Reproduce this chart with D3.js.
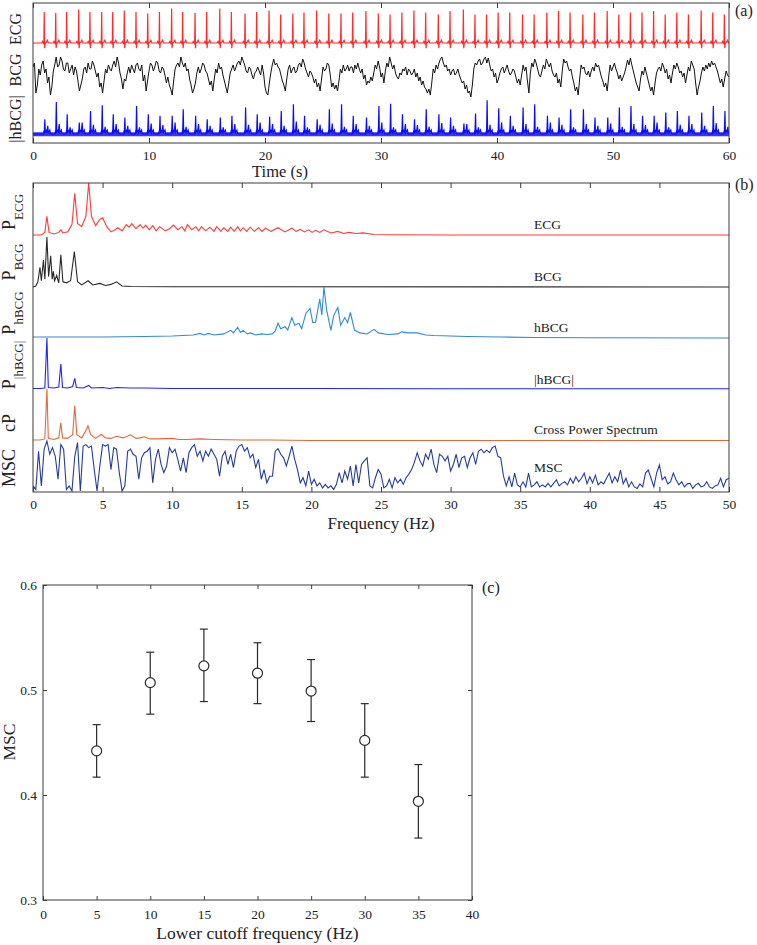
<!DOCTYPE html>
<html>
<head>
<meta charset="utf-8">
<script src="https://cdn.jsdelivr.net/npm/d3@7"></script>
<style>
  body { margin: 0; background: #fff; }
  text { font-family: "Liberation Serif", "Times New Roman", serif; fill: #222; }
</style>
</head>
<body>
<div id="fig"></div>
<script>
// ---------- (a) time signals ----------
const timeTicks = [0, 10, 20, 30, 40, 50, 60];
// R-peak times (s)
const beatTimes = [0.97, 1.96, 2.9, 3.94, 4.91, 5.92, 6.87, 7.87, 8.88, 9.89, 10.9, 11.95, 12.9, 13.97, 14.97, 16.1, 17.1, 18.28, 19.28,
    20.35, 21.35, 22.4, 23.36, 24.45, 25.5, 26.55, 27.56, 28.7, 29.77, 30.78, 31.8, 32.84, 33.85, 34.94, 35.95, 37.1, 38.1, 39.1, 40.1,
    41.1, 42.2, 43.2, 44.3, 45.3, 46.3, 47.4, 48.4, 49.5, 50.5, 51.5, 52.5, 53.5, 54.5, 55.5, 56.5, 57.6, 58.6, 59.6];
const ecgR = [1.0, 0.97, 1.0, 1.08, 1.0, 1.0, 1.0, 1.05, 1.0, 0.95, 1.0, 1.11, 1.0, 0.97, 1.0, 1.11, 1.0, 0.95, 1.0,
    1.05, 0.92, 0.95, 0.98, 1.05, 0.95, 0.95, 0.98, 1.03, 0.95, 0.92, 0.98, 1.05, 0.98, 0.92, 1.03, 1.08, 0.92, 0.92, 0.98,
    0.98, 0.92, 0.92, 0.98, 1.03, 0.98, 0.92, 0.98, 1.03, 0.92, 0.98, 0.98, 1.03, 0.92, 0.98, 0.92, 1.05, 0.98, 0.92];
// one heartbeat: [offset s, level]; level 1 = R peak
const ecgBeatShape = [[-0.22, 0], [-0.15, 0.05], [-0.09, 0], [-0.035, -0.04], [0, 1], [0.035, -0.17], [0.08, 0], [0.18, 0.02], [0.27, 0.09], [0.36, 0]];
const hbcgMain = [0.45, 0.97, 0.6, 0.35, 0.7, 0.87, 0.6, 0.5, 0.85, 0.6, 0.55, 0.55, 0.75, 0.55, 0.45, 0.5, 0.55, 0.8, 0.6,
    0.52, 0.7, 0.9, 0.55, 0.45, 0.75, 0.9, 0.55, 0.5, 0.85, 0.92, 0.6, 0.45, 0.75, 0.6, 0.5, 0.32, 0.62, 1.02, 0.78,
    0.55, 0.8, 0.9, 0.55, 0.5, 0.75, 0.75, 0.5, 0.5, 0.8, 0.85, 0.55, 0.55, 0.65, 0.7, 0.55, 0.65, 0.85, 0.7];
const hbcgSub = [0.25, 0.3, 0.2, 0.35, 0.28, 0.22, 0.3, 0.25, 0.2, 0.32, 0.27, 0.35, 0.22, 0.3, 0.25, 0.2, 0.3, 0.28, 0.35,
    0.3, 0.25, 0.38, 0.2, 0.28, 0.32, 0.22, 0.3, 0.25, 0.35, 0.2, 0.3, 0.27, 0.22, 0.33, 0.25, 0.3, 0.2, 0.28, 0.35,
    0.25, 0.3, 0.22, 0.35, 0.28, 0.2, 0.3, 0.25, 0.32, 0.22, 0.3, 0.27, 0.35, 0.2, 0.28, 0.3, 0.25, 0.33, 0.22];
// one hBCG beat: 'm' = main spike, 's' = second spike
const hbcgBeatShape = [[-0.06, 0], [-0.02, 0.1], [0, 0.02], [0.05, "m"], [0.09, 0.06], [0.16, 0.1], [0.22, 0.04], [0.3, "s"], [0.35, 0.04], [0.48, 0.12], [0.53, 0.02], [0.62, 0]];
// BCG sampled every 0.125 s, 0..60 s (one row = 2 s)
const bcgStep = 0.125;
const bcgValues = [
    0.4, 0.6, -0.9, -0.5, 0.3, 0.0, 0.5, 0.7, 0.1, 0.3, -0.4, -0.1, -1.0, -0.6, 0.2, 0.5,
    0.9, 0.4, 0.5, 0.9, 0.7, 0.3, 0.2, 0.6, 0.6, 0.1, 0.3, 0.5, 0.0, 0.4, 0.2, -0.3,
    -0.8, -0.5, -0.2, 0.3, 0.4, 0.1, 0.6, 0.3, 0.3, 0.7, 0.5, 0.2, -0.1, 0.1, -0.6, -0.4,
    -0.9, -0.3, 0.3, 0.1, 0.5, 0.3, 0.2, 0.5, 0.7, 0.4, 0.9, 0.6, 0.1, -0.2, -0.7, -0.2,
    -0.3, 0.1, 0.4, 0.1, 0.5, 0.3, 0.1, 0.5, 0.6, 0.3, 0.2, 0.5, -0.3, 0.0, -0.8, -0.3,
    0.2, 0.6, 0.5, 0.2, 0.4, 0.7, 0.6, 0.2, 0.1, 0.4, 0.3, 0.0, -0.4, -0.1, -0.5, -0.7,
    -1.0, -0.3, 0.3, 0.5, 0.6, 0.4, 0.9, 0.6, 0.4, 0.6, 0.2, 0.3, -0.2, -0.5, -0.9, -0.7,
    -0.4, 0.1, 0.4, 0.1, 0.3, 0.6, 0.5, 0.2, 0.1, -0.2, -0.5, -0.3, -0.8, -0.2, 0.3, 0.1,
    0.6, 0.3, 0.4, 0.0, -0.3, -0.6, -0.9, -0.4, 0.1, 0.3, 0.5, 0.2, 0.4, 0.6, 0.7, 0.5,
    0.9, 0.7, 0.5, 0.2, 0.1, 0.4, 0.3, 0.0, -0.2, 0.1, 0.2, 0.4, 0.2, 0.0, 0.5, 0.1,
    -0.6, -0.9, -1.0, -0.4, 0.1, 0.5, 0.8, 0.5, 0.6, 0.4, 0.3, 0.0, -0.3, -0.5, -0.8, -0.2,
    0.3, 0.5, 0.1, 0.3, 0.4, 0.1, 0.2, 0.5, 0.6, 0.4, 0.8, 0.6, 0.3, 0.1, -0.1, 0.2,
    0.1, -0.1, -0.4, -0.2, -0.6, -0.4, -0.8, -0.2, 0.4, 0.2, 0.3, 0.6, 0.5, 0.0, -0.6, -0.4,
    -0.7, -0.5, -0.8, -0.3, 0.3, 0.1, 0.5, 0.2, 0.3, 0.5, 0.2, 0.4, 0.4, 0.1, 0.5, 0.3,
    0.6, 0.3, 0.1, 0.3, -0.2, 0.0, -0.5, -0.3, -0.4, -0.1, -0.3, 0.1, 0.5, 0.3, 0.7, 0.4,
    -0.1, 0.1, -0.4, 0.2, 0.6, 0.4, 0.9, 0.6, 0.3, 0.5, 0.1, -0.1, -0.2, 0.1, 0.0, 0.3,
    0.2, 0.4, 0.0, 0.3, 0.2, 0.0, 0.1, 0.3, -0.1, 0.1, -0.3, -0.1, -0.5, -0.3, -0.6, -0.7,
    -0.9, -0.7, -1.0, -0.4, 0.3, 0.1, 0.5, 0.3, 0.6, 0.8, 0.9, 0.6, 0.4, 0.5, 0.2, 0.3,
    0.0, 0.2, 0.3, 0.0, 0.1, 0.3, 0.0, -0.2, -0.4, -0.3, -0.7, -0.5, -0.9, -0.8, -1.1, -0.5,
    0.3, 0.6, 0.5, 0.7, 0.8, 0.5, 0.6, 0.8, 0.9, 0.6, 0.85, 0.5, 0.2, 0.3, -0.1, 0.1,
    -0.4, -0.2, 0.1, 0.3, 0.4, 0.1, 0.3, 0.5, 0.2, 0.0, 0.1, 0.3, 0.2, -0.1, -0.4, -0.2,
    -0.5, 0.0, 0.5, 0.2, 0.4, -0.3, -0.9, 0.1, 0.6, 0.4, 0.8, 0.6, 0.3, 0.0, -0.1, 0.2,
    0.5, 0.3, 0.8, 0.6, 0.4, 0.6, 0.2, 0.0, -0.1, 0.1, -0.4, -0.2, -0.6, 0.2, 0.8, 0.6,
    0.7, 0.4, 0.2, 0.3, -0.1, -0.4, -0.8, -0.6, -1.0, -0.2, 0.5, 0.3, 0.4, 0.1, 0.0, 0.2,
    -0.1, 0.2, 0.4, 0.2, 0.6, 0.4, 0.5, 0.2, -0.1, -0.3, -0.6, -0.4, -0.8, -0.1, 0.5, 0.2,
    0.4, 0.6, 0.3, 0.1, -0.2, 0.0, -0.3, -0.1, 0.1, 0.4, 0.75, 0.5, 0.85, 0.5, 0.2, -0.1,
    -0.4, -0.6, -0.8, -0.2, 0.2, 0.0, 0.4, 0.1, -0.2, -0.5, -0.8, -0.6, -1.0, -0.4, 0.1, 0.3,
    0.4, 0.2, 0.6, 0.4, 0.1, 0.3, -0.2, 0.0, -0.4, 0.1, 0.5, 0.3, 0.6, 0.4, 0.1, 0.2,
    -0.1, 0.1, -0.4, 0.0, 0.4, 0.2, 0.7, 0.5, 0.3, -0.4, -1.0, -0.6, -0.3, 0.1, 0.4, 0.2,
    0.5, 0.3, 0.6, 0.4, 0.7, 0.5, 0.6, 0.4, 0.2, -0.1, -0.4, -0.2, -0.6, -0.2, 0.2, 0.0,
    -0.1];

// ---------- (b) spectra, [Hz, normalised power] ----------
const freqTicks = [0, 5, 10, 15, 20, 25, 30, 35, 40, 45, 50];
const ecgSpectrum = [[0, 0], [0.6, 0], [0.85, 0.05], [1.0, 0.36], [1.15, 0.05], [1.5, 0.02], [1.85, 0.05], [2.0, 0.1], [2.15, 0.04], [2.5, 0.06],
    [2.8, 0.2], [3.0, 0.8], [3.2, 0.22], [3.5, 0.16], [3.8, 0.36], [4.0, 1.0], [4.2, 0.36], [4.5, 0.18], [4.8, 0.3], [5.0, 0.33],
    [5.3, 0.16], [5.6, 0.06], [5.9, 0.1], [6.1, 0.14], [6.4, 0.08], [6.7, 0.2], [6.9, 0.15], [7.1, 0.22], [7.4, 0.12], [7.7, 0.2],
    [7.9, 0.13], [8.1, 0.19], [8.35, 0.1], [8.6, 0.18], [8.85, 0.08], [9.1, 0.16], [9.5, 0.08], [9.8, 0.12], [10.1, 0.19], [10.4, 0.1],
    [10.7, 0.16], [10.9, 0.08], [11.1, 0.2], [11.4, 0.1], [11.7, 0.16], [11.9, 0.08], [12.1, 0.16], [12.4, 0.08], [12.7, 0.15], [13.0, 0.07],
    [13.2, 0.16], [13.5, 0.07], [13.7, 0.14], [14.0, 0.07], [14.2, 0.15], [14.45, 0.07], [14.7, 0.16], [14.9, 0.08], [15.1, 0.14], [15.35, 0.07],
    [15.6, 0.15], [15.9, 0.07], [16.2, 0.14], [16.45, 0.07], [16.7, 0.13], [17.1, 0.07], [17.6, 0.14], [18.1, 0.06], [18.6, 0.13], [18.9, 0.07],
    [19.2, 0.11], [19.5, 0.06], [19.8, 0.1], [20.05, 0.05], [20.3, 0.09], [20.6, 0.05], [20.9, 0.1], [21.4, 0.04], [21.9, 0.07], [22.3, 0.03],
    [22.7, 0.05], [23.2, 0.03], [23.7, 0.04], [24.5, 0.01], [26, 0.005], [30, 0], [50, 0]];
const bcgSpectrum = [[0, 0], [0.2, 0.02], [0.35, 0.1], [0.5, 0.38], [0.6, 0.12], [0.75, 0.52], [0.85, 0.15], [1.0, 0.96], [1.12, 0.2], [1.27, 0.6],
    [1.38, 0.15], [1.46, 0.3], [1.55, 0.12], [1.7, 0.22], [1.85, 0.08], [2.0, 0.62], [2.15, 0.1], [2.4, 0.08], [2.7, 0.12], [2.97, 0.68],
    [3.2, 0.1], [3.5, 0.04], [3.96, 0.12], [4.3, 0.04], [4.8, 0.07], [5.2, 0.03], [5.6, 0.05], [6.0, 0.1], [6.4, 0.02], [7, 0.01], [10, 0.005], [50, 0]];
const hbcgSpectrum = [[0, 0.02], [5, 0.02], [8, 0.03], [10, 0.04], [11.5, 0.06], [12, 0.09], [12.3, 0.06], [12.6, 0.09], [13, 0.06], [13.7, 0.08],
    [14.2, 0.15], [14.4, 0.1], [14.7, 0.21], [14.9, 0.11], [15.1, 0.15], [15.4, 0.08], [15.6, 0.1], [16, 0.06], [16.4, 0.08], [16.8, 0.07],
    [17.2, 0.08], [17.4, 0.14], [17.6, 0.29], [17.8, 0.18], [18.1, 0.22], [18.3, 0.16], [18.6, 0.4], [18.8, 0.25], [19.1, 0.29], [19.3, 0.18],
    [19.6, 0.48], [19.9, 0.58], [20.1, 0.3], [20.3, 0.31], [20.6, 0.77], [20.75, 0.45], [20.9, 1.0], [21.1, 0.54], [21.4, 0.15], [21.6, 0.44],
    [21.9, 0.6], [22.1, 0.25], [22.4, 0.4], [22.6, 0.3], [22.8, 0.5], [23.1, 0.15], [23.5, 0.1], [24, 0.08], [24.5, 0.17], [24.8, 0.1],
    [25.5, 0.07], [26.2, 0.08], [26.5, 0.12], [26.9, 0.1], [27.6, 0.1], [28.2, 0.06], [28.8, 0.05], [30, 0.04], [31.2, 0.03], [33.6, 0.02],
    [36, 0.01], [40, 0.005], [50, 0]];
const absHbcgSpectrum = [[0, 0.01], [0.5, 0.01], [0.85, 0.02], [1.0, 1.0], [1.1, 0.03], [1.5, 0.02], [1.85, 0.04], [2.0, 0.49], [2.12, 0.03], [2.5, 0.02],
    [2.85, 0.05], [3.0, 0.21], [3.12, 0.03], [3.6, 0.02], [4.0, 0.07], [4.2, 0.02], [5, 0.03], [5.5, 0.01], [6, 0.03], [7, 0.02],
    [8, 0.02], [10, 0.01], [15, 0.01], [20, 0.01], [30, 0.005], [50, 0.005]];
const crossSpectrum = [[0, 0.02], [0.5, 0.02], [0.85, 0.04], [1.0, 1.0], [1.1, 0.05], [1.5, 0.03], [1.85, 0.06], [2.0, 0.35], [2.12, 0.06], [2.5, 0.05],
    [2.85, 0.12], [3.0, 0.68], [3.15, 0.12], [3.5, 0.06], [3.8, 0.2], [3.95, 0.29], [4.15, 0.12], [4.5, 0.05], [4.9, 0.13], [5.2, 0.06],
    [5.6, 0.05], [6.0, 0.09], [6.5, 0.06], [7.0, 0.12], [7.4, 0.05], [7.7, 0.06], [8.0, 0.08], [8.4, 0.04], [9, 0.04], [10, 0.05],
    [10.5, 0.03], [11, 0.03], [12, 0.04], [13, 0.03], [15, 0.02], [17, 0.02], [20, 0.01], [25, 0.01], [50, 0.01]];
// magnitude squared coherence, every 0.2 Hz from 0 to 50 Hz
const mscStep = 0.2;
const mscValues = [
    0.12, 0.05, 0.8, 0.12, 0.84, 1.0, 0.74, 0.87, 0.7, 0.25,
    0.93, 0.84, 0.05, 0.12, 0.02, 0.7, 0.97, 0.02, 0.9, 0.93,
    0.87, 0.9, 0.44, 0.02, 0.51, 0.93, 0.9, 0.93, 0.44, 0.87,
    0.84, 0.38, 0.02, 0.12, 0.8, 0.84, 0.74, 0.7, 0.25, 0.67,
    0.77, 0.8, 0.87, 0.18, 0.64, 0.84, 0.54, 0.38, 0.51, 0.87,
    0.77, 0.84, 0.64, 0.41, 0.67, 0.38, 0.77, 0.87, 0.93, 0.7,
    0.8, 0.61, 0.8, 0.7, 0.84, 0.74, 0.64, 0.31, 0.7, 0.8,
    0.54, 0.74, 0.48, 0.8, 0.9, 0.93, 0.8, 0.87, 0.67, 0.74,
    0.48, 0.64, 0.25, 0.44, 0.18, 0.31,
    0.31, 0.8, 0.85, 0.74, 0.67, 0.51, 0.7, 0.9, 0.64, 0.44,
    0.18, 0.28, 0.12, 0.41, 0.15, 0.25, 0.12, 0.18, 0.08, 0.15,
    0.08, 0.12, 0.05, 0.15, 0.38, 0.18, 0.41, 0.25, 0.51, 0.12,
    0.54, 0.18, 0.54, 0.61, 0.67, 0.12, 0.08, 0.28, 0.44, 0.35,
    0.08, 0.12, 0.25, 0.08, 0.28, 0.18, 0.25, 0.15, 0.28, 0.35,
    0.44, 0.58, 0.77, 0.61, 0.51, 0.74, 0.64, 0.84, 0.54, 0.38,
    0.74, 0.7, 0.61, 0.7, 0.41, 0.54, 0.74, 0.48, 0.67, 0.7,
    0.48, 0.67, 0.77, 0.54, 0.8, 0.84, 0.77, 0.82, 0.77, 0.87,
    0.9, 0.7, 0.67, 0.31, 0.12,
    0.3, 0.1, 0.37, 0.14, 0.1, 0.2, 0.1, 0.37, 0.1, 0.14,
    0.2, 0.1, 0.14, 0.1, 0.17, 0.1, 0.17, 0.24, 0.12, 0.17,
    0.2, 0.14, 0.27, 0.17, 0.3, 0.2, 0.27, 0.37, 0.16, 0.3,
    0.18, 0.33, 0.14, 0.2, 0.16, 0.27, 0.37, 0.18, 0.3, 0.2,
    0.43, 0.16, 0.27, 0.1, 0.2, 0.1, 0.07, 0.16, 0.1, 0.37,
    0.43, 0.27, 0.1, 0.37, 0.53, 0.24, 0.3, 0.16, 0.2, 0.37,
    0.24, 0.14, 0.2, 0.1, 0.16, 0.17, 0.07, 0.14, 0.17, 0.1,
    0.12, 0.2, 0.1, 0.07, 0.12, 0.14, 0.27, 0.1, 0.24, 0.27];

// ---------- (c) MSC vs lower cutoff ----------
const cutoffFreq = [5, 10, 15, 20, 25, 30, 35];
const mscMean = [0.442, 0.507, 0.523, 0.516, 0.499, 0.452, 0.394];
const mscLow = [0.417, 0.477, 0.489, 0.487, 0.470, 0.417, 0.359];
const mscHigh = [0.467, 0.536, 0.558, 0.545, 0.529, 0.487, 0.429];
const cutoffTicks = [0, 5, 10, 15, 20, 25, 30, 35, 40];
const mscTicks = [0.3, 0.4, 0.5, 0.6];

function drawFigure() {
    const W = 757, H = 945;
    const frameColor = "#3c3c3c";
    const svg = d3.select("#fig").append("svg").attr("width", W).attr("height", H);
    svg.append("rect").attr("width", W).attr("height", H).attr("fill", "#fff");

    function frame(box) {
        svg.append("rect")
            .attr("x", box.l).attr("y", box.t)
            .attr("width", box.r - box.l).attr("height", box.b - box.t)
            .attr("fill", "none").attr("stroke", frameColor).attr("stroke-width", 1);
    }
    function styleAxis(g) {
        g.select(".domain").remove();
        g.selectAll(".tick line").attr("stroke", frameColor);
        g.selectAll(".tick text")
            .style("font-family", '"Liberation Serif", serif')
            .style("font-size", "13.5px").attr("fill", "#2a2a2a");
    }
    function clip(id, box) {
        svg.append("clipPath").attr("id", id).append("rect")
            .attr("x", box.l).attr("y", box.t - 1)
            .attr("width", box.r - box.l).attr("height", box.b - box.t + 1);
    }
    function rotLabel(x, y, size, txt) {
        svg.append("text").attr("transform", `translate(${x},${y}) rotate(-90)`)
            .attr("text-anchor", "middle").style("font-size", size + "px").text(txt);
    }

    // ================= panel (a) =================
    const a = {l: 33, r: 729, t: 3, b: 143};
    const xA = d3.scaleLinear().domain([0, 60]).range([a.l, a.r]);
    const yEcg = d3.scaleLinear().domain([0, 1]).range([43, 12]);
    const yBcg = d3.scaleLinear().domain([-1, 1]).range([95, 55]);
    const yHb = d3.scaleLinear().domain([0, 1]).range([134, 101]);
    clip("clipA", a);
    const gA = svg.append("g").attr("clip-path", "url(#clipA)");

    // ECG: beats built from R times and amplitudes
    let ecgPts = [[0, 0]];
    beatTimes.forEach(function(t, i) {
        ecgBeatShape.forEach(function(s) {
            ecgPts.push([t + s[0], s[1] === 1 ? ecgR[i] : s[1]]);
        });
    });
    ecgPts.push([60, 0]);
    gA.append("path").datum(ecgPts)
        .attr("fill", "none").attr("stroke", "#ff2b2b").attr("stroke-width", 1.2)
        .attr("d", d3.line().x(d => xA(d[0])).y(d => yEcg(d[1])));

    // BCG
    gA.append("path").datum(bcgValues)
        .attr("fill", "none").attr("stroke", "#111").attr("stroke-width", 1)
        .attr("d", d3.line().x((d, i) => xA(i * bcgStep)).y(d => yBcg(d)));

    // |hBCG|: noise floor band + spikes
    gA.append("path").datum([0, 60])
        .attr("fill", "#1414ff").attr("opacity", 0.85)
        .attr("d", d3.area().x(d => xA(d)).y0(yHb(-0.07)).y1(yHb(0.05)));
    let hbPts = [[0, 0]];
    beatTimes.forEach(function(t, i) {
        hbcgBeatShape.forEach(function(s) {
            let v = s[1] === "m" ? hbcgMain[i] : (s[1] === "s" ? hbcgSub[i] : s[1]);
            hbPts.push([t + s[0], v]);
        });
    });
    hbPts.push([60, 0]);
    gA.append("path").datum(hbPts)
        .attr("fill", "none").attr("stroke", "#0a0aff").attr("stroke-width", 1.2)
        .attr("d", d3.line().x(d => xA(d[0])).y(d => yHb(d[1])));

    frame(a);
    svg.append("g").attr("transform", `translate(0,${a.b})`)
        .call(d3.axisBottom(xA).tickValues(timeTicks).tickSizeInner(-5).tickSizeOuter(0).tickPadding(7))
        .call(styleAxis);
    svg.append("g").attr("transform", `translate(0,${a.t})`)
        .call(d3.axisTop(xA).tickValues(timeTicks).tickSizeInner(-5).tickSizeOuter(0).tickFormat(""))
        .call(styleAxis);
    svg.append("text").attr("x", 280).attr("y", 177).attr("text-anchor", "middle")
        .style("font-size", "16.5px").text("Time (s)");
    rotLabel(21, 29, 16, "ECG");
    rotLabel(21, 70, 16, "BCG");
    rotLabel(21, 119, 16, "|hBCG|");
    svg.append("text").attr("x", 735).attr("y", 16).style("font-size", "16px").text("(a)");

    // ================= panel (b) =================
    const b = {l: 33, r: 729, t: 183, b: 492};
    const rows = [183, 235, 287, 338, 389, 441, 492];
    const xB = d3.scaleLinear().domain([0, 50]).range([b.l, b.r]);
    clip("clipB", b);
    const gB = svg.append("g").attr("clip-path", "url(#clipB)");
    const mscPts = mscValues.map((v, i) => [i * mscStep, v]);
    const traces = [
        {pts: ecgSpectrum, color: "#ff3b3b", label: "ECG", ly: 229},
        {pts: bcgSpectrum, color: "#2a2a2a", label: "BCG", ly: 281},
        {pts: hbcgSpectrum, color: "#2f8ad8", label: "hBCG", ly: 332},
        {pts: absHbcgSpectrum, color: "#2323ff", label: "|hBCG|", ly: 384},
        {pts: crossSpectrum, color: "#e2683c", label: "Cross Power Spectrum", ly: 434},
        {pts: mscPts, color: "#263c9c", label: "MSC", ly: 472}
    ];
    traces.forEach(function(tr, i) {
        const yS = d3.scaleLinear().domain([0, 1]).range([rows[i + 1], rows[i]]);
        gB.append("path").datum(tr.pts)
            .attr("fill", "none").attr("stroke", tr.color).attr("stroke-width", 1.1)
            .attr("d", d3.line().x(d => xB(d[0])).y(d => yS(d[1])));
        svg.append("text").attr("x", 534).attr("y", tr.ly)
            .style("font-size", "13.5px").text(tr.label);
    });
    frame(b);
    svg.append("g").attr("transform", `translate(0,${b.b})`)
        .call(d3.axisBottom(xB).tickValues(freqTicks).tickSizeInner(-5).tickSizeOuter(0).tickPadding(7))
        .call(styleAxis);
    svg.append("g").attr("transform", `translate(0,${b.t})`)
        .call(d3.axisTop(xB).tickValues(freqTicks).tickSizeInner(-5).tickSizeOuter(0).tickFormat(""))
        .call(styleAxis);
    svg.append("text").attr("x", (b.l + b.r) / 2).attr("y", 529).attr("text-anchor", "middle")
        .style("font-size", "17px").text("Frequency (Hz)");

    // P with subscript labels
    const pLabels = [
        {main: "P", sub: "ECG", cy: 212},
        {main: "P", sub: "BCG", cy: 262},
        {main: "P", sub: "hBCG", cy: 313},
        {main: "P", sub: "|hBCG|", cy: 365},
        {main: "cP", sub: "", cy: 423},
        {main: "MSC", sub: "", cy: 468}
    ];
    pLabels.forEach(function(p) {
        const t = svg.append("text").attr("transform", `translate(15,${p.cy}) rotate(-90)`)
            .attr("text-anchor", "middle");
        t.append("tspan").style("font-size", "18px").text(p.main);
        if (p.sub) t.append("tspan").attr("dy", 8).style("font-size", "13px").text(p.sub);
    });
    svg.append("text").attr("x", 735).attr("y", 190).style("font-size", "16px").text("(b)");

    // ================= panel (c) =================
    const c = {l: 43, r: 472, t: 585, b: 900};
    const xC = d3.scaleLinear().domain([0, 40]).range([c.l, c.r]);
    const yC = d3.scaleLinear().domain([0.3, 0.6]).range([c.b, c.t]);
    frame(c);
    svg.append("g").attr("transform", `translate(0,${c.b})`)
        .call(d3.axisBottom(xC).tickValues(cutoffTicks).tickSizeInner(-4).tickSizeOuter(0).tickPadding(9))
        .call(styleAxis);
    svg.append("g").attr("transform", `translate(0,${c.t})`)
        .call(d3.axisTop(xC).tickValues(cutoffTicks).tickSizeInner(-4).tickSizeOuter(0).tickFormat(""))
        .call(styleAxis);
    svg.append("g").attr("transform", `translate(${c.l},0)`)
        .call(d3.axisLeft(yC).tickValues(mscTicks).tickFormat(d3.format(".1f")).tickSizeInner(-4).tickSizeOuter(0).tickPadding(6))
        .call(styleAxis);
    svg.append("g").attr("transform", `translate(${c.r},0)`)
        .call(d3.axisRight(yC).tickValues(mscTicks).tickFormat("").tickSizeInner(-4).tickSizeOuter(0))
        .call(styleAxis);

    const bars = svg.append("g").attr("stroke", "#2a2a2a").attr("stroke-width", 1.2).attr("fill", "none");
    cutoffFreq.forEach(function(f, i) {
        const x = xC(f);
        bars.append("line").attr("x1", x).attr("x2", x).attr("y1", yC(mscLow[i])).attr("y2", yC(mscHigh[i]));
        bars.append("line").attr("x1", x - 4).attr("x2", x + 4).attr("y1", yC(mscLow[i])).attr("y2", yC(mscLow[i]));
        bars.append("line").attr("x1", x - 4).attr("x2", x + 4).attr("y1", yC(mscHigh[i])).attr("y2", yC(mscHigh[i]));
        bars.append("circle").attr("cx", x).attr("cy", yC(mscMean[i])).attr("r", 5).attr("fill", "#fff");
    });
    svg.append("text").attr("x", (c.l + c.r) / 2).attr("y", 939).attr("text-anchor", "middle")
        .style("font-size", "17.5px").text("Lower cutoff frequency (Hz)");
    rotLabel(15, 742, 17.5, "MSC");
    svg.append("text").attr("x", 482).attr("y", 593).style("font-size", "16px").text("(c)");
}
drawFigure();
</script>
</body>
</html>
